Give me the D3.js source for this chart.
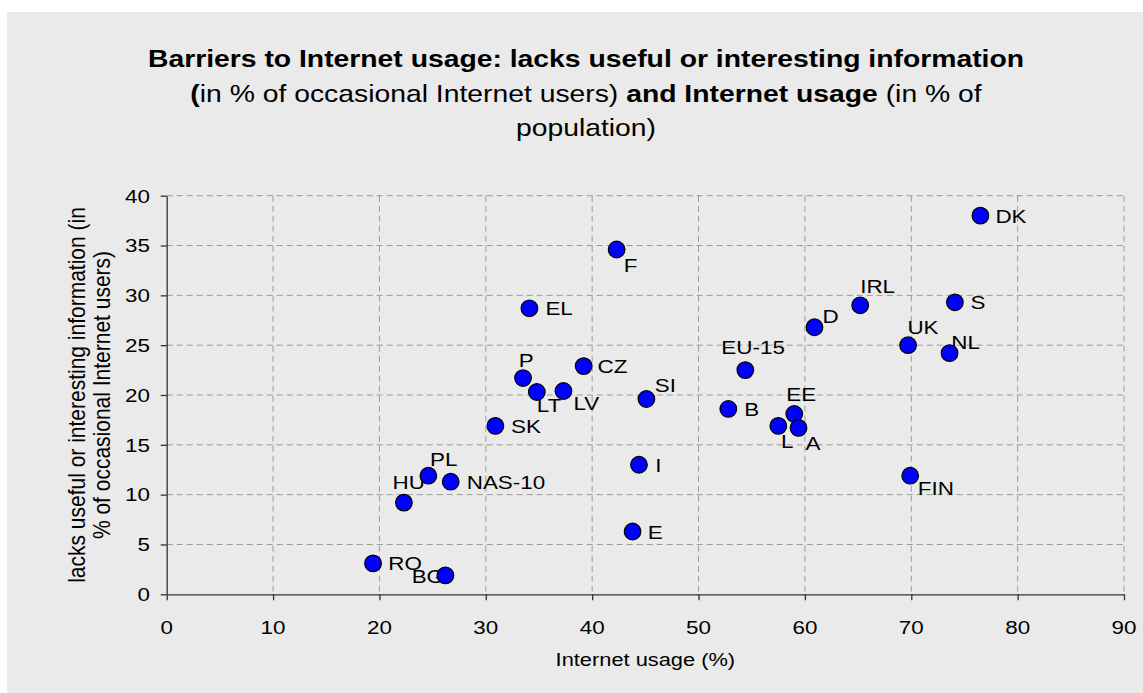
<!DOCTYPE html>
<html>
<head>
<meta charset="utf-8">
<script src="https://cdn.jsdelivr.net/npm/d3@7/dist/d3.min.js"></script>
<style>
  html, body { margin: 0; padding: 0; background: #ffffff; }
  svg { display: block; }
  text { font-family: "Liberation Sans", Arial, sans-serif; fill: #000; }
</style>
</head>
<body>
<svg id="chart" width="1143" height="693"></svg>
<script>
// ---- data ----
const countries = ["DK","F","IRL","S","D","UK","NL","EU-15","CZ","SI","B","EE","L","A","I","FIN","E","EL","P","LT","LV","SK","PL","NAS-10","HU","RO","BG"];
const internetUsage = [76.5,42.3,65.2,74.1,60.9,69.7,73.6,54.4,39.2,45.1,52.8,59.0,57.5,59.4,44.4,69.9,43.8,34.1,33.5,34.8,37.3,30.9,24.6,26.7,22.3,19.4,26.2];
const lacksInfo = [38.0,34.6,29.0,29.3,26.8,25.0,24.2,22.5,22.9,19.6,18.6,18.1,16.9,16.7,13.0,11.9,6.3,28.7,21.7,20.3,20.4,16.9,11.9,11.3,9.2,3.1,1.9];
const xTicks = [0,10,20,30,40,50,60,70,80,90];
const yTicks = [0,5,10,15,20,25,30,35,40];

// ---- layout (label placement relative to marker: text start dx, baseline dy) ----
const labelOffsets = {
  "DK":[15,7],"F":[7,22],"IRL":[0,-12.6],"S":[15.5,7],"D":[8,-4.3],"UK":[-0.7,-11.4],
  "NL":[1.7,-4],"EU-15":[-24,-15.7],"CZ":[13.8,7],"SI":[8.3,-6.7],"B":[16,7],"EE":[-8,-13.3],
  "L":[2.8,22],"A":[6.9,22],"I":[16.3,7],"FIN":[7.6,19],"E":[15.2,7],"EL":[16,7],
  "P":[-4.3,-11.3],"LT":[0,19.7],"LV":[10,19.3],"SK":[15.7,7],"PL":[1.7,-9.3],
  "NAS-10":[16,7],"HU":[-11.3,-13.4],"RO":[15.3,7],"BG":[-33.7,7.6]
};
const SX = 1.18; // horizontal stretch of the reference's text

const points = countries.map((c,i)=>({name:c, x:internetUsage[i], y:lacksInfo[i]}));

const svg = d3.select("#chart");
svg.append("rect").attr("x",7).attr("y",12).attr("width",1143-7).attr("height",693-12).attr("fill","#eaeaea");

const pL = 166.7, pR = 1124, pT = 195.7, pB = 594.3;
const x = d3.scaleLinear().domain([0,90]).range([pL,pR]);
const y = d3.scaleLinear().domain([0,40]).range([pB,pT]);

// helper for stretched text
function stext(g, px, py, size, anchor){
  return g.append("text")
    .attr("transform", `translate(${px},${py}) scale(${SX},1)`)
    .attr("font-size", size)
    .attr("text-anchor", anchor || "start");
}

// grid
const grid = svg.append("g");
grid.selectAll("line.h").data(yTicks.filter(d=>d>0)).join("line").attr("class","h")
  .attr("x1",pL).attr("x2",pR).attr("y1",d=>y(d)).attr("y2",d=>y(d))
  .attr("stroke","#9a9a9a").attr("stroke-width",1).attr("stroke-dasharray","6,4");
grid.selectAll("line.v").data(xTicks.filter(d=>d>0)).join("line").attr("class","v")
  .attr("y1",pT).attr("y2",pB).attr("x1",d=>x(d)).attr("x2",d=>x(d))
  .attr("stroke","#9a9a9a").attr("stroke-width",1).attr("stroke-dasharray","6,4");

// axes
const xAxis = svg.append("g").attr("transform",`translate(0,${pB})`)
  .call(d3.axisBottom(x).tickValues(xTicks).tickSize(6).tickSizeOuter(0).tickFormat(""));
const yAxis = svg.append("g").attr("transform",`translate(${pL},0)`)
  .call(d3.axisLeft(y).tickValues(yTicks).tickSize(6).tickSizeOuter(0).tickFormat(""));
[xAxis,yAxis].forEach(a=>{
  a.select(".domain").attr("stroke","#333").attr("stroke-width",1.3);
  a.selectAll(".tick line").attr("stroke","#333").attr("stroke-width",1.3);
});

// tick labels
const tl = svg.append("g");
xTicks.forEach(v=>{ stext(tl, x(v), 633.5, 19, "middle").text(v); });
yTicks.forEach(v=>{ stext(tl, 150, y(v)+6.8, 19, "end").text(v); });

// axis titles
stext(svg, (pL+pR)/2, 666, 18.5, "middle").text("Internet usage (%)");
const yt = svg.append("text")
  .attr("transform", `translate(85,${(pT+pB)/2}) scale(${SX},1) rotate(-90)`)
  .attr("font-size", 21).attr("text-anchor","middle");
yt.append("tspan").attr("x",0).attr("dy",0).text("lacks useful or interesting information (in");
yt.append("tspan").attr("x",0).attr("dy",25/SX).text("% of occasional Internet users)");

// title
const cx = 586;
stext(svg, cx, 67, 24, "middle").attr("font-weight","bold")
  .text("Barriers to Internet usage: lacks useful or interesting information");
const t2 = stext(svg, cx, 101.5, 24, "middle");
t2.append("tspan").attr("font-weight","bold").text("(");
t2.append("tspan").text("in % of occasional Internet users) ");
t2.append("tspan").attr("font-weight","bold").text("and Internet usage");
t2.append("tspan").text(" (in % of");
stext(svg, cx, 135.5, 24, "middle").text("population)");

// point labels (under markers)
const lg = svg.append("g");
points.forEach(p=>{
  const o = labelOffsets[p.name];
  stext(lg, x(p.x)+o[0], y(p.y)+o[1], 19, "start").text(p.name);
});

// markers
svg.append("g").selectAll("circle").data(points).join("circle")
  .attr("cx",d=>x(d.x)).attr("cy",d=>y(d.y)).attr("r",8.3)
  .attr("fill","#0000ff").attr("stroke","#000").attr("stroke-width",1.2);
</script>
</body>
</html>
